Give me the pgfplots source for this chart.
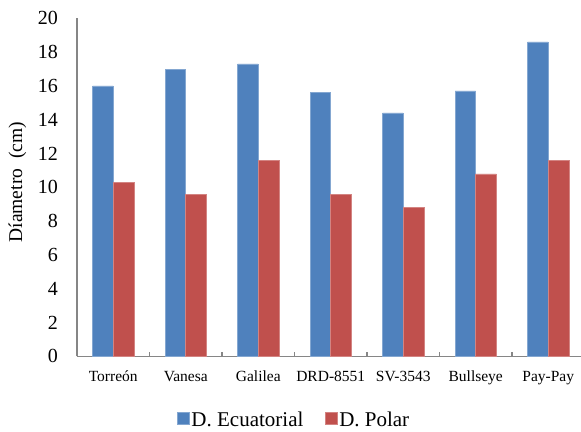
\documentclass[border=0pt]{standalone}
\usepackage{fontspec}
\setmainfont{Liberation Serif}
\usepackage{pgfplots}
\pgfplotsset{compat=1.18}

\definecolor{ecuBlue}{HTML}{4F81BD}
\definecolor{polRed}{HTML}{C0504D}
\definecolor{axisGray}{HTML}{868686}

\begin{document}
\begin{tikzpicture}
\useasboundingbox (-77pt,-75pt) rectangle (504pt,356.3pt);
\begin{axis}[
    at={(0pt,0pt)}, anchor=south west,
    scale only axis,
    width=504pt, height=338pt,
    ybar=0pt,
    bar width=20.7pt,
    xmin=-0.5, xmax=6.452,
    ymin=0, ymax=20,
    ytick={0,2,...,20},
    xtick={0,...,6},
    xticklabels={Torreón,Vanesa,Galilea,DRD-8551,SV-3543,Bullseye,Pay-Pay},
    extra x ticks={0.5,1.5,2.5,3.5,4.5,5.5},
    extra x tick labels={},
    extra x tick style={major tick length=4pt, tick align=inside,
        tick style={draw=axisGray, line width=1.4pt}},
    major tick length=0pt,
    axis x line*=bottom,
    axis y line*=left,
    axis line style={-, draw=axisGray, line width=1.6pt},
    /pgf/number format/assume math mode=true,
    yticklabel style={anchor=east, inner sep=0pt, xshift=-19pt,
        font=\fontsize{20}{24}\selectfont},
    xticklabel style={anchor=base, inner sep=0pt, yshift=-24.7pt,
        font=\fontsize{15.5}{18}\selectfont},
    ylabel={Díametro\ \ (cm)},
    ylabel style={at={(axis description cs:-0.118,0.515)}, anchor=center,
        font=\fontsize{19.5}{23}\selectfont},
    legend columns=2,
    legend style={draw=none, fill=none, inner sep=0pt,
        nodes={inner sep=0.5pt},
        at={(axis description cs:0.4295,-0.188)}, anchor=center,
        font=\fontsize{21}{24}\selectfont,
        /tikz/every even column/.append style={column sep=21pt},
        /tikz/every odd column/.append style={column sep=1pt}},
    legend image code/.code={\fill[#1] (0pt,-4.8pt) rectangle (12.3pt,7.5pt);},
]
\addplot[fill=ecuBlue, draw=ecuBlue!70!white, line width=0.5pt]
    coordinates {(0,16.0) (1,17.0) (2,17.3) (3,15.6) (4,14.4) (5,15.7) (6,18.6)};
\addplot[fill=polRed, draw=polRed!70!white, line width=0.5pt]
    coordinates {(0,10.3) (1,9.6) (2,11.6) (3,9.6) (4,8.8) (5,10.8) (6,11.6)};
\legend{D. Ecuatorial, D. Polar}
\end{axis}
\end{tikzpicture}
\end{document}
